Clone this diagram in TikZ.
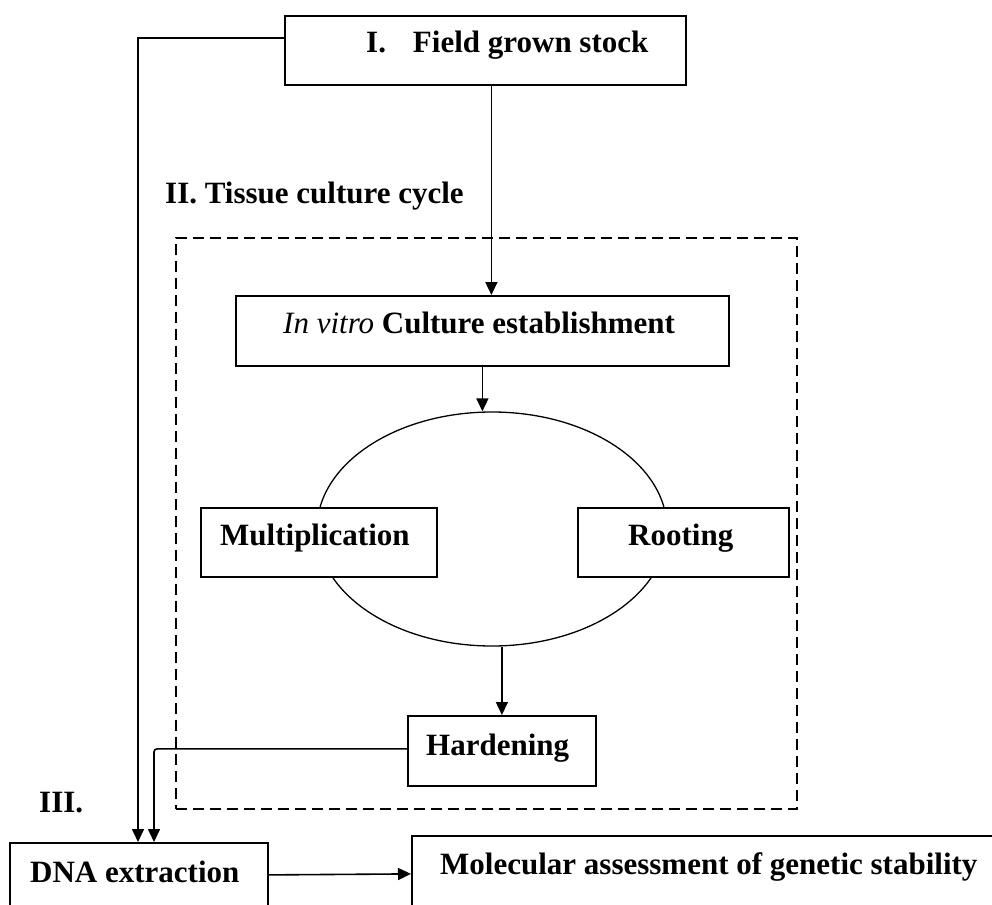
\documentclass[tikz,border=0pt]{standalone}
\usepackage{fontspec}
\setmainfont{Liberation Serif}
\usetikzlibrary{arrows.meta,calc,shapes.geometric}
\begin{document}
\begin{tikzpicture}[x=1pt,y=-1pt,
 box/.style={draw, line width=1.8pt, fill=white, inner sep=0pt, anchor=north west},
 lbl/.style={anchor=base west, inner sep=0pt, font=\fontsize{31}{36}\selectfont\bfseries},
 arr/.style={line width=1.6pt, -{Triangle[length=13pt,width=12pt]}}]
\clip (0,0) rectangle (992,904);
\fill[white] (0,0) rectangle (992,904);
% dashed frame
\node[draw, line width=1.8pt, dash pattern=on 11pt off 6pt, inner sep=0pt, anchor=north west,
  minimum width=621pt, minimum height=571pt] (frame) at (175,237) {};
% cycle ellipse
\node[draw, ellipse, line width=1.3pt, minimum width=350pt, minimum height=234pt, inner sep=0pt] (cyc) at (492,529) {};
% boxes
\node[box, minimum width=401pt, minimum height=69pt] (field) at (284,15) {};
\node[box, minimum width=493pt, minimum height=70pt] (invitro) at (235,295) {};
\node[box, minimum width=236pt, minimum height=69pt] (mult) at (200,507) {};
\node[box, minimum width=211pt, minimum height=69pt] (root) at (577,507) {};
\node[box, minimum width=188pt, minimum height=70pt] (hard) at (407,715) {};
\node[box, minimum width=258pt, minimum height=90pt] (dna) at (9,842) {};
\node[box, minimum width=600pt, minimum height=95pt] (mol) at (411,835) {};
% connectors
\draw[arr] ([xshift=6pt]field.south) -- ([xshift=6pt]field.south |- invitro.north);
\draw[arr] (invitro.south) -- (invitro.south |- cyc.north);
\draw[arr] (hard.north |- cyc.south) -- (hard.north);
\draw[arr] ([yshift=12.5pt]field.west) -| ([xshift=129pt]dna.north west);
\draw[arr, rounded corners=3pt] ([yshift=2pt]hard.west) -| ([xshift=145pt]dna.north west);
\draw[arr] ([yshift=13pt]dna.east) -- ([yshift=9.5pt]mol.west);
% labels
\node[lbl] (tfield) at (366,53) {I.\hspace{27pt}Field grown stock};
\node[lbl] (tcycle) at (165,203) {II. Tissue culture cycle};
\node[lbl] (tinvitro) at (283,333) {{\mdseries\itshape In vitro} Culture establishment};
\node[lbl] (tmult) at (220,545) {Multiplication};
\node[lbl] (troot) at (628,545) {Rooting};
\node[lbl] (thard) at (426,755) {Hardening};
\node[lbl] (tiii) at (39,812) {III.};
\node[lbl] (tdna) at (30,882) {DNA extraction};
\node[lbl] (tmol) at (440,874) {Molecular assessment of genetic stability};
\end{tikzpicture}
\end{document}
